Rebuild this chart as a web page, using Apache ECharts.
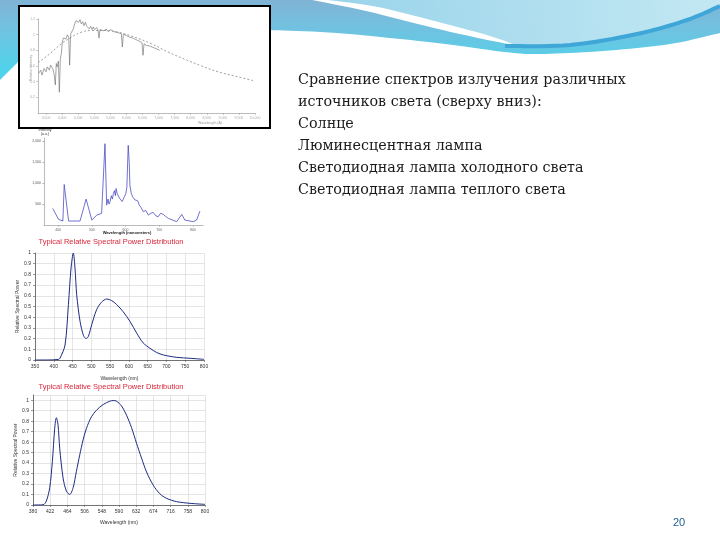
<!DOCTYPE html>
<html><head><meta charset="utf-8">
<script src="https://cdn.jsdelivr.net/npm/echarts@6/dist/echarts.min.js"></script>
<style>html,body{margin:0;padding:0;background:#fff}#c{width:720px;height:540px}</style>
</head><body><div id="c"></div>
<script>
// ---------- data ----------
// Sun (Å, relative)
const sunWave = [3271,3333,3374,3437,3499,3540,3603,3644,3706,3748,3789,3820,3851,3883,3914,3945,3976,4007,4038,4080,4121,4163,4204,4235,4266,4308,4349,4391,4432,4474,4515,4557,4598,4640,4681,4723,4764,4806,4847,4888,4930,4971,5013,5075,5117,5148,5179,5241,5303,5365,5428,5511,5594,5677,5760,5843,5874,5905,5998,6102,6205,6309,6413,6485,6517,6548,6621,6724,6880,7036];
const sunFlux = [0.505,0.547,0.484,0.568,0.526,0.589,0.547,0.611,0.568,0.505,0.358,0.632,0.589,0.661,0.265,0.695,0.758,0.905,0.956,0.981,0.947,0.998,0.968,0.611,1.011,1.032,1.074,1.137,1.179,1.2,1.158,1.192,1.137,1.166,1.116,1.158,1.107,1.124,1.074,1.107,1.065,1.099,1.065,1.091,1.057,0.956,1.065,1.074,1.048,1.074,1.040,1.065,1.040,1.032,1.023,1.011,0.842,1.006,0.989,0.968,0.956,0.935,0.914,0.897,0.737,0.884,0.863,0.855,0.829,0.800];
const sunRefWave = [3250,3561,3976,4287,4598,4909,5324,5739,6257,6776,7294,7813,8331,8850,9368,10000];
const sunRefFlux = [0.644,0.737,0.884,0.968,1.032,1.053,1.053,1.032,0.968,0.884,0.779,0.686,0.602,0.526,0.472,0.408];
const sunTicksX = [3500,4000,4500,5000,5500,6000,6500,7000,7500,8000,8500,9000,9500,10000];
const sunTicksY = [0.2,0.4,0.6,0.8,1.0,1.2];

// Fluorescent lamp (nm, a.u.)
const flWave = [384,401,414,418,431,465,483,500,515,529,539,544,548,551,554,558,561,564,567,570,572,575,579,582,586,590,594,597,601,604,608,611,613,617,621,625,628,631,636,641,646,653,660,668,675,682,690,697,704,712,720,727,752,767,776,801,811,821];
const flInt  = [397,135,95,968,95,95,619,119,238,278,1944,476,620,500,555,700,620,754,820,700,873,760,793,640,674,560,595,680,754,900,1904,1500,952,760,674,720,600,555,580,476,420,317,350,238,280,301,220,198,280,254,200,159,79,254,119,79,119,333];
const flTicksX = [400,500,600,700,800];
const flTicksY = [500,1000,1500,2000];

// Cool white LED
const coolWave = [350,380,412,416.5,430,439,446,452,456.5,461,470,479,486,492,501,514,527,541,554,567,585,603,621,638,656,674,692,727,763,800];
const coolPow  = [0,0,0.005,0.016,0.14,0.52,0.86,1.0,0.86,0.61,0.36,0.23,0.2,0.22,0.33,0.47,0.54,0.57,0.555,0.52,0.45,0.36,0.25,0.16,0.11,0.07,0.047,0.025,0.016,0.006];

// Warm white LED
const warmWave = [380,404.5,412.6,420.8,427.3,433,437.1,441.2,445.2,453.4,461.6,469.7,477.9,486,494.2,502.3,510.5,522.7,535,551.3,567.6,575.7,583.9,596.1,608.3,620.6,632.8,645,657.3,673.6,689.9,706.2,730.7,763.3,800];
const warmPow  = [0,0.002,0.038,0.164,0.416,0.732,0.833,0.763,0.543,0.259,0.132,0.101,0.164,0.322,0.479,0.621,0.732,0.842,0.905,0.959,0.991,0.997,0.991,0.946,0.858,0.738,0.590,0.448,0.315,0.189,0.107,0.063,0.032,0.016,0.006];
const warmTicksX = [380,422,464,506,548,590,632,674,716,758,800];

const textLines = [
  'Сравнение спектров излучения различных',
  'источников света (сверху вниз):',
  'Солнце',
  'Люминесцентная лампа',
  'Светодиодная лампа холодного света',
  'Светодиодная лампа теплого света'
];
const chartTitle = 'Typical Relative Spectral Power Distribution';
const pageNumber = '20';

// ---------- helpers ----------
const zip = (a, b) => a.map((v, i) => [v, b[i]]);
function spline(pts, n) {
  const out = [];
  for (let i = 0; i < pts.length - 1; i++) {
    const p0 = pts[Math.max(i - 1, 0)], p1 = pts[i], p2 = pts[i + 1], p3 = pts[Math.min(i + 2, pts.length - 1)];
    for (let k = 0; k < n; k++) {
      const t = k / n, t2 = t * t, t3 = t2 * t;
      const f = j => 0.5 * ((2 * p1[j]) + (-p0[j] + p2[j]) * t + (2 * p0[j] - 5 * p1[j] + 4 * p2[j] - p3[j]) * t2 + (-p0[j] + 3 * p1[j] - 3 * p2[j] + p3[j]) * t3);
      out.push([f(0), f(1)]);
    }
  }
  out.push(pts[pts.length - 1]);
  return out;
}

// ---------- decorative slide background ----------
const waveA = [[0,0],[720,0]].concat(spline([[720,33],[670,44],[603,51],[540,54],[505,52],[437,43],[337,33],[270,30]], 10)).concat([[150,45],[18,62],[0,80]]);
const waveB = spline([[318,0],[370,9],[437,27],[487,39],[510,45]], 8).concat(spline([[512,45],[570,44],[637,33],[687,19],[720,7]], 8)).concat([[720,0]]);
const waveC = spline([[328,0],[378,7],[442,23],[490,36],[515,45]], 8).concat(spline([[487,40],[434,28],[366,11],[312,0]], 8));
const waveD = spline([[505,46],[570,45],[637,34],[687,20],[720,6]], 10);

const graphics = [
  {type:'polygon', z:-6, silent:true, shape:{points:waveA},
   style:{fill:{type:'linear', x:0, y:0, x2:0, y2:70, global:true, colorStops:[{offset:0,color:'#80b3d5'},{offset:0.35,color:'#74c0df'},{offset:1,color:'#4fd3ea'}]}}},
  {type:'polygon', z:-5, silent:true, shape:{points:waveB},
   style:{fill:{type:'linear', x:320, y:40, x2:720, y2:0, global:true, colorStops:[{offset:0,color:'#98d3ea'},{offset:1,color:'#c3e8f3'}]}}},
  {type:'polygon', z:-4, silent:true, shape:{points:waveC}, style:{fill:'#ffffff'}},
  {type:'polyline', z:-3, silent:true, shape:{points:waveD}, style:{stroke:'#3fa6d8', lineWidth:4, fill:null}},
  {type:'rect', z:-1, silent:true, shape:{x:19, y:6, width:251, height:122}, style:{fill:'#fff', stroke:'#000', lineWidth:2}},
  // small axis names of the first two pictures
  {type:'text', z:10, x:210, y:123, style:{text:'Wavelength (Å)', fontSize:3.5, fill:'#999', align:'center', verticalAlign:'middle', fontFamily:'Liberation Sans'}},
  {type:'text', z:10, x:31, y:68, rotation:Math.PI/2, style:{text:'Relative Intensity', fontSize:3.5, fill:'#999', align:'center', verticalAlign:'middle', fontFamily:'Liberation Sans'}},
  {type:'text', z:10, x:45, y:132, style:{text:'Intensity\n(a.u.)', fontSize:3.5, lineHeight:4, fill:'#333', align:'center', verticalAlign:'middle', fontFamily:'Liberation Sans'}},
  {type:'text', z:10, x:127, y:233, style:{text:'Wavelength (nanometers)', fontSize:4, fontWeight:'bold', fill:'#222', align:'center', verticalAlign:'middle', fontFamily:'Liberation Sans'}},
  // titles
  {type:'text', z:10, x:111, y:242, style:{text:chartTitle, fontSize:7.5, fill:'#d9263a', align:'center', verticalAlign:'middle', fontFamily:'Liberation Sans'}},
  {type:'text', z:10, x:111, y:387, style:{text:chartTitle, fontSize:7.5, fill:'#d9263a', align:'center', verticalAlign:'middle', fontFamily:'Liberation Sans'}},
  // page number
  {type:'text', z:10, x:679, y:523, style:{text:pageNumber, fontSize:11, fill:'#23608f', align:'center', verticalAlign:'middle', fontFamily:'Liberation Sans'}}
];
textLines.forEach((t, i) => {
  graphics.push({type:'text', z:10, x:298, y:80 + i * 22, style:{text:t, fontSize:14.3, fill:'#1a1a1a', align:'left', verticalAlign:'middle', fontFamily:'DejaVu Serif'}});
});

// ---------- axes ----------
const tinyLabel = (c, s) => ({fontSize:s, color:c, fontFamily:'Liberation Sans'});
const fmt1 = v => (v === 0 ? '0' : (Math.abs(v - 1) < 1e-9 ? '1' : v.toFixed(1)));

const option = {
  animation: false,
  backgroundColor: 'transparent',
  grid: [
    {left:38, top:19, width:217, height:94},
    {left:44, top:138, width:159, height:87},
    {left:35, top:253, width:169, height:107},
    {left:33, top:395, width:172, height:110}
  ],
  xAxis: [
    {gridIndex:0, type:'value', min:3250, max:10000,
     axisLine:{lineStyle:{color:'#aaa', width:0.8}},
     axisTick:{customValues:sunTicksX, length:2, inside:false, lineStyle:{color:'#aaa', width:0.6}},
     axisLabel:{customValues:sunTicksX, margin:3, ...tinyLabel('#aaa', 3.5)},
     splitLine:{show:false}},
    {gridIndex:1, type:'value', min:358, max:830,
     axisLine:{lineStyle:{color:'#aaa', width:0.8}},
     axisTick:{customValues:flTicksX, length:1.5, lineStyle:{color:'#aaa'}},
     axisLabel:{customValues:flTicksX, margin:3, ...tinyLabel('#666', 3.5)},
     splitLine:{show:false}},
    {gridIndex:2, type:'value', min:350, max:800, interval:50,
     axisLine:{lineStyle:{color:'#555', width:0.8}},
     axisTick:{length:2, lineStyle:{color:'#555', width:0.6}},
     axisLabel:{margin:4, ...tinyLabel('#333', 5)},
     splitLine:{show:true, lineStyle:{color:'#d4d4d4', width:0.6}},
     name:'Wavelength (nm)', nameLocation:'middle', nameGap:16, nameTextStyle:tinyLabel('#333', 5)},
    {gridIndex:3, type:'value', min:380, max:800,
     axisLine:{lineStyle:{color:'#555', width:0.8}},
     axisTick:{customValues:warmTicksX, length:2, lineStyle:{color:'#555', width:0.6}},
     axisLabel:{customValues:warmTicksX, margin:4, ...tinyLabel('#333', 5)},
     splitLine:{show:true, lineStyle:{color:'#d4d4d4', width:0.6}},
     name:'Wavelength (nm)', nameLocation:'middle', nameGap:15, nameTextStyle:tinyLabel('#333', 5)}
  ],
  yAxis: [
    {gridIndex:0, type:'value', min:0, max:1.2,
     axisLine:{show:true, lineStyle:{color:'#aaa', width:0.8}},
     axisTick:{show:true, customValues:sunTicksY, length:2, lineStyle:{color:'#aaa', width:0.6}},
     axisLabel:{customValues:sunTicksY, margin:3, ...tinyLabel('#aaa', 3.5)},
     splitLine:{show:false}},
    {gridIndex:1, type:'value', min:0, max:2080,
     axisLine:{show:true, lineStyle:{color:'#aaa', width:0.8}},
     axisTick:{show:true, customValues:flTicksY, length:1.5, lineStyle:{color:'#aaa'}},
     axisLabel:{customValues:flTicksY, margin:3, ...tinyLabel('#555', 3.5)},
     splitLine:{show:false}},
    {gridIndex:2, type:'value', min:0, max:1, interval:0.1,
     axisLine:{show:true, lineStyle:{color:'#555', width:0.8}},
     axisTick:{show:true, length:2, lineStyle:{color:'#555', width:0.6}},
     axisLabel:{margin:4, formatter:fmt1, ...tinyLabel('#333', 5)},
     splitLine:{show:true, lineStyle:{color:'#d4d4d4', width:0.6}},
     name:'Relative Spectral Power', nameLocation:'middle', nameGap:15, nameTextStyle:tinyLabel('#333', 5)},
    {gridIndex:3, type:'value', min:0, max:1.05, interval:0.1,
     axisLine:{show:true, lineStyle:{color:'#555', width:0.8}},
     axisTick:{show:true, length:2, lineStyle:{color:'#555', width:0.6}},
     axisLabel:{margin:4, showMaxLabel:false, formatter:fmt1, ...tinyLabel('#333', 5)},
     splitLine:{show:true, lineStyle:{color:'#d4d4d4', width:0.6}},
     name:'Relative Spectral Power', nameLocation:'middle', nameGap:13, nameTextStyle:tinyLabel('#333', 5)}
  ],
  graphic: graphics,
  series: [
    {type:'line', xAxisIndex:0, yAxisIndex:0, data:zip(sunWave, sunFlux), showSymbol:false,
     lineStyle:{color:'#666', width:0.6}},
    {type:'line', xAxisIndex:0, yAxisIndex:0, data:zip(sunRefWave, sunRefFlux), showSymbol:false, smooth:0.4,
     lineStyle:{color:'#777', width:0.7, type:[2, 2]}},
    {type:'line', xAxisIndex:1, yAxisIndex:1, data:zip(flWave, flInt), showSymbol:false,
     lineStyle:{color:'#4d4dc4', width:0.8}},
    {type:'line', xAxisIndex:2, yAxisIndex:2, data:zip(coolWave, coolPow), showSymbol:false, smooth:0.3,
     lineStyle:{color:'#1e2b82', width:1}},
    {type:'line', xAxisIndex:3, yAxisIndex:3, data:zip(warmWave, warmPow), showSymbol:false, smooth:0.3,
     lineStyle:{color:'#1e2b82', width:1}}
  ]
};
const chart = echarts.init(document.getElementById('c'), null, {renderer:'canvas'});
chart.setOption(option);
</script>
</body></html>
